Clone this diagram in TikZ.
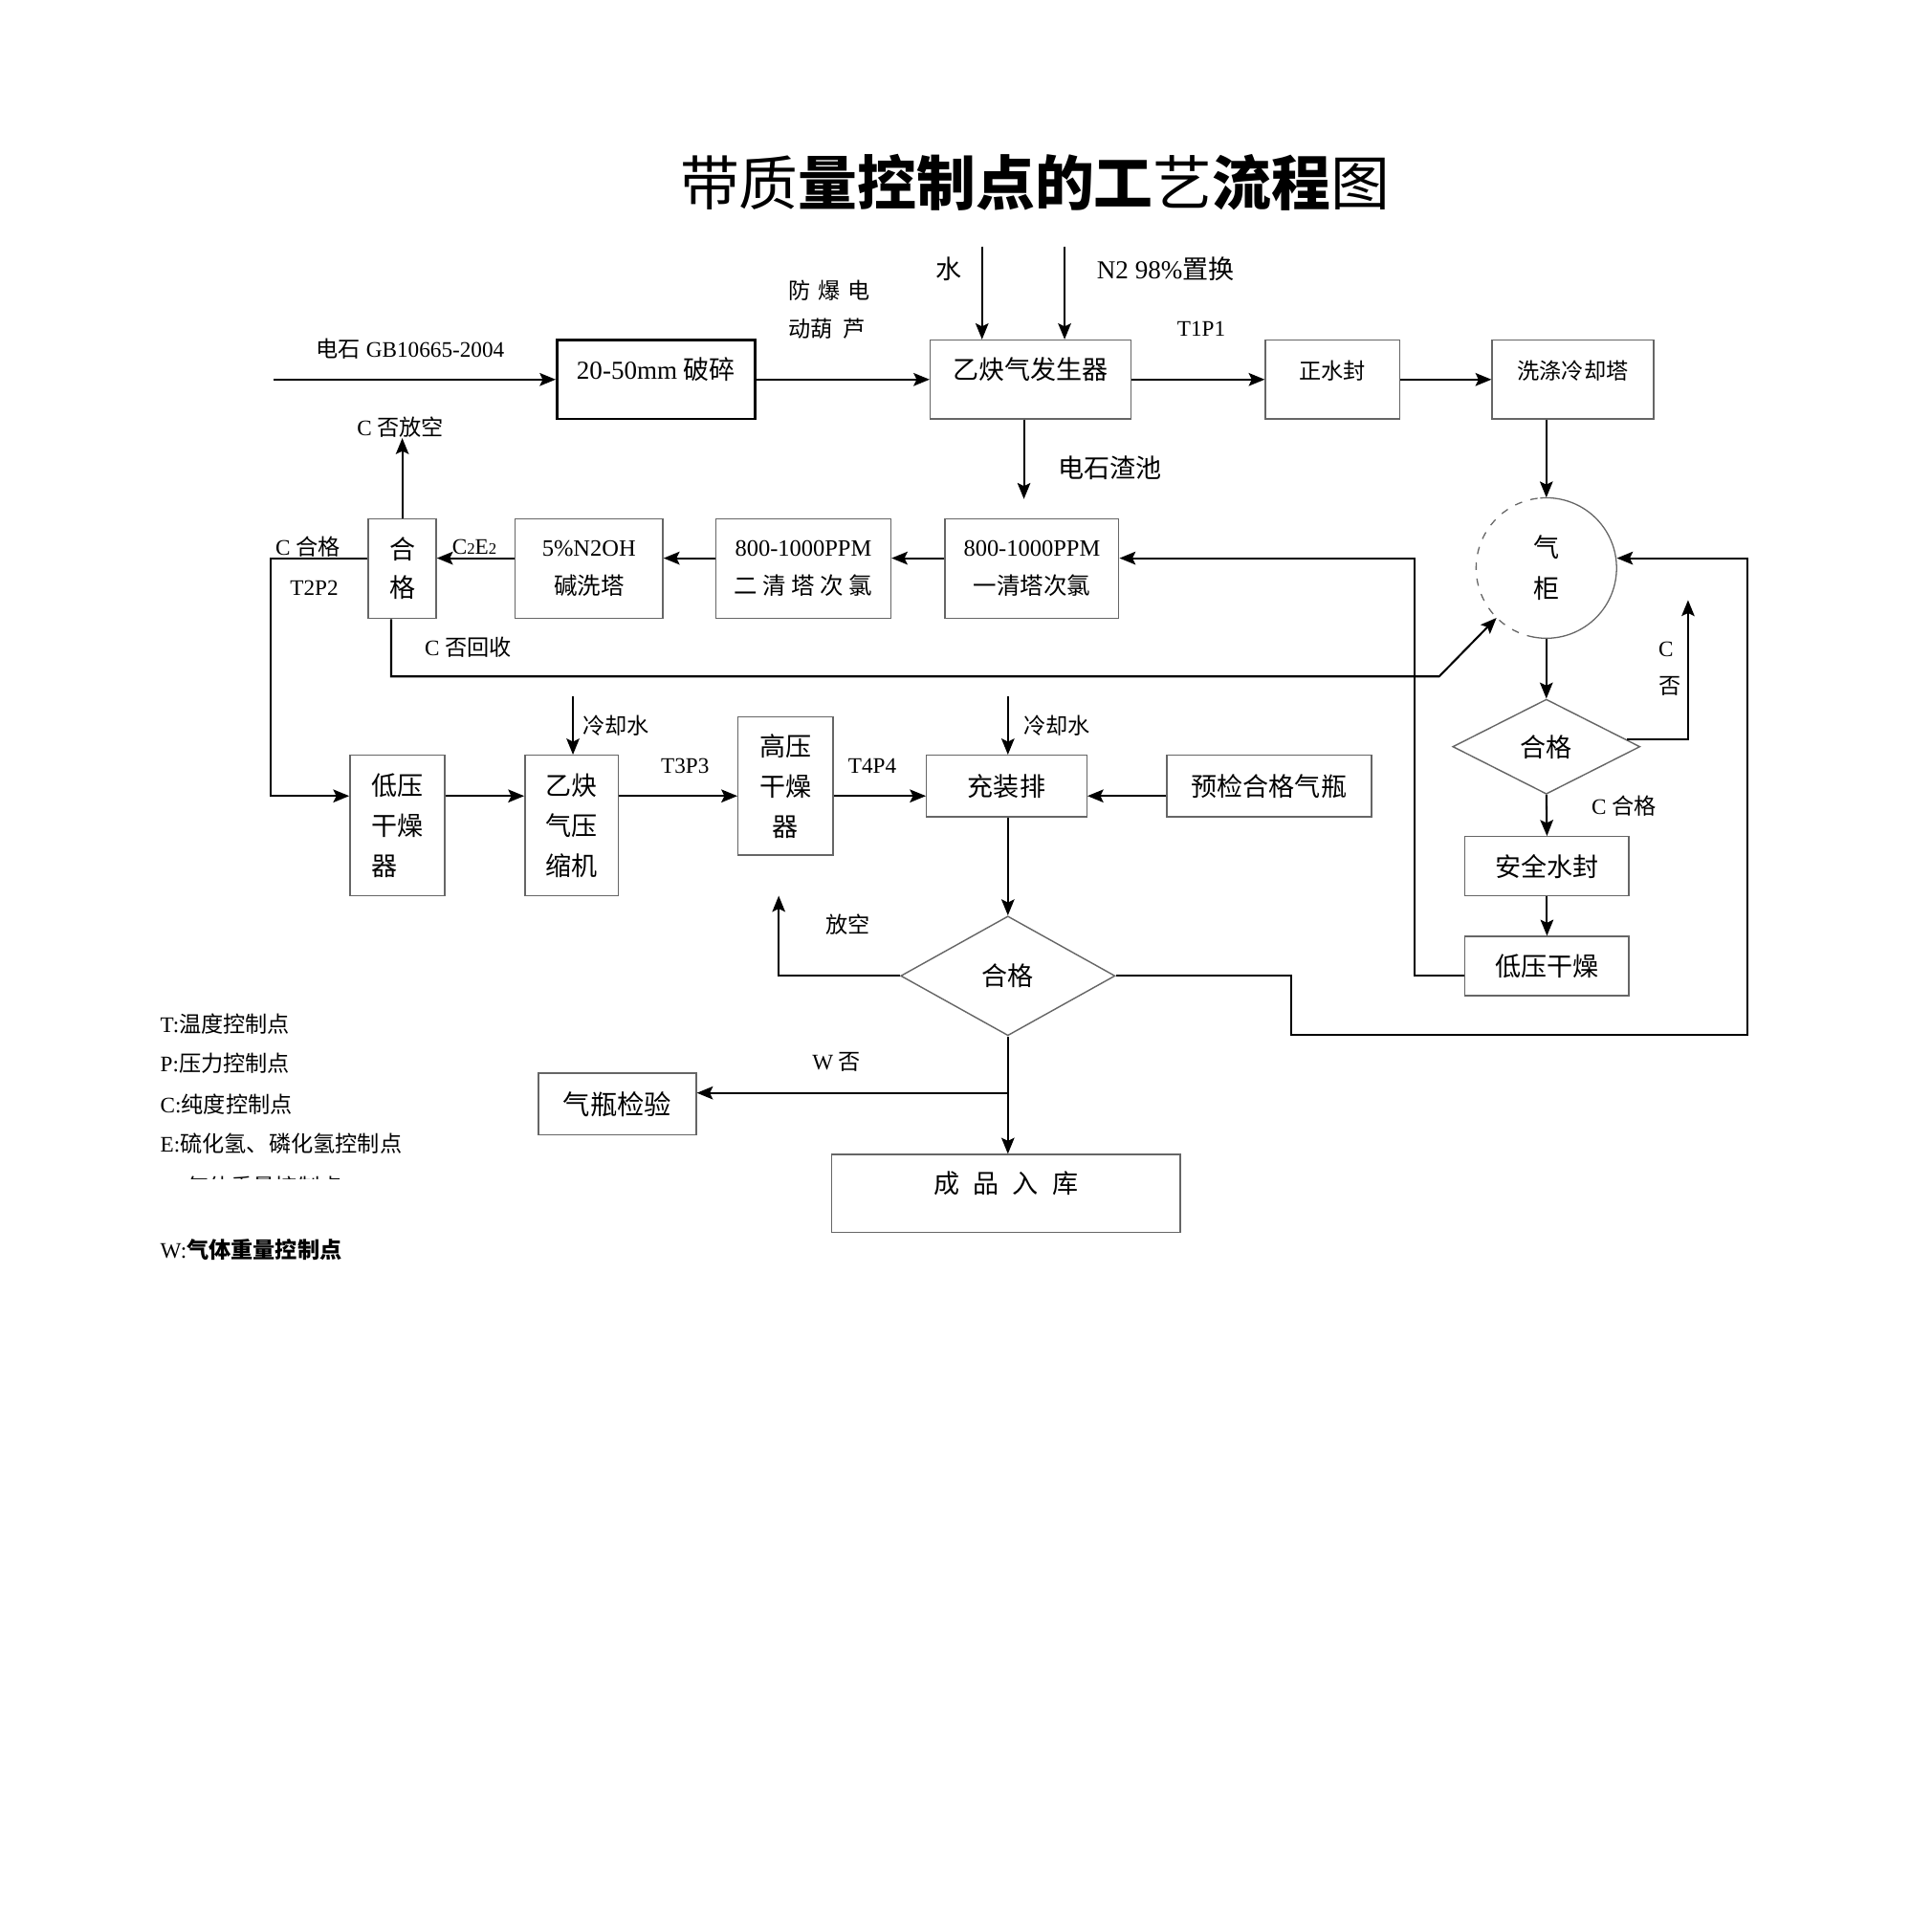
\documentclass[tikz,border=0pt]{standalone}
\usepackage{fontspec}
\setmainfont{Liberation Serif}
\newfontfamily\zh{Noto Sans CJK SC}
\usetikzlibrary{arrows.meta,shapes.geometric,calc}

\tikzstyle{block}=[draw=black!60, line width=1.1pt, rectangle, inner sep=0pt, align=center, font=\fontsize{19}{31}\selectfont]
\tikzstyle{decision}=[draw=black!60, line width=1.1pt, diamond, inner sep=0pt, font=\fontsize{21}{25}\selectfont\zh]
\tikzstyle{raised}=[text height=16pt, text depth=16pt]
\tikzstyle{flow}=[draw, line width=1.6pt, -{Stealth[length=13pt,width=10.5pt,inset=2.5pt]}]
\tikzstyle{tag}=[inner sep=0pt, font=\fontsize{18}{22}\selectfont]
\tikzstyle{bigtag}=[inner sep=0pt, font=\fontsize{21}{25}\selectfont]

\begin{document}
\begin{tikzpicture}[x=1pt, y=-1pt]
    \fill[white] (0,0) rectangle (1568,1568);
    \useasboundingbox (0,0) rectangle (1568,1568);

    % title
    \node[font=\fontsize{48}{48}\selectfont\zh] (title) at (840,148) {带质{\bfseries 量控制点的工}艺{\bfseries 流程}图};

    % blocks
    \node[block, raised, draw=black, line width=2pt, minimum width=161, minimum height=64, font=\fontsize{21}{25}\selectfont] (crush) at (532.5,308) {20-50mm {\zh 破碎}};
    \node[block, raised, minimum width=163, minimum height=64, font=\fontsize{21}{25}\selectfont\zh] (gen) at (836.5,308) {乙炔气发生器};
    \node[block, raised, minimum width=109, minimum height=64, font=\fontsize{18}{22}\selectfont\zh] (seal) at (1081.5,308) {正水封};
    \node[block, raised, minimum width=131, minimum height=64, font=\fontsize{18}{22}\selectfont\zh] (wash) at (1276.5,308) {洗涤冷却塔};

    \node[circle, minimum size=114, inner sep=0pt, align=center, font=\fontsize{21}{33}\selectfont\zh] (holder) at (1255,461) {气\\柜};
    \draw[line width=1pt, black!60] ([shift={(100:57)}]holder.center) arc[start angle=100, end angle=-95, radius=57];
    \draw[line width=1pt, black!60, dash pattern=on 6pt off 7pt] ([shift={(100:57)}]holder.center) arc[start angle=100, end angle=265, radius=57];

    \node[block, minimum width=141, minimum height=81] (clean1) at (837.5,461.5) {800-1000PPM\\{\zh 一清塔次氯}};
    \node[block, minimum width=142, minimum height=81] (clean2) at (652,461.5) {800-1000PPM\\{\zh 二 清 塔 次 氯}};
    \node[block, minimum width=120, minimum height=81] (alkali) at (478,461.5) {5\%N2OH\\{\zh 碱洗塔}};
    \node[block, minimum width=55, minimum height=81, font=\fontsize{21}{31}\selectfont\zh] (check) at (326.5,461.5) {合\\格};

    \node[block, minimum width=77, minimum height=114, align=left, font=\fontsize{21}{32.5}\selectfont\zh] (lowdry) at (322.5,670) {低压\\干燥\\器};
    \node[block, minimum width=76, minimum height=114, font=\fontsize{21}{32.5}\selectfont\zh] (comp) at (464,670) {乙炔\\气压\\缩机};
    \node[block, minimum width=77, minimum height=112, font=\fontsize{21}{32.5}\selectfont\zh] (hpdry) at (637.5,638) {高压\\干燥\\器};
    \node[block, minimum width=130, minimum height=50, font=\fontsize{21}{25}\selectfont\zh] (fill) at (817,638) {充装排};
    \node[block, minimum width=166, minimum height=50, font=\fontsize{21}{25}\selectfont\zh] (precheck) at (1030,638) {预检合格气瓶};

    \node[decision, minimum width=174, minimum height=97] (pass) at (818,792) {合格};
    \node[block, minimum width=128, minimum height=50, font=\fontsize{22}{25}\selectfont\zh] (bottle) at (501,896) {气瓶检验};
    \node[block, raised, minimum width=283, minimum height=63, font=\fontsize{21}{25}\selectfont\zh] (store) at (816.5,968.5) {成\hspace{11pt}品\hspace{11pt}入\hspace{11pt}库};

    \node[decision, minimum width=152, minimum height=77] (purity) at (1255,606) {合格};
    \node[block, minimum width=133, minimum height=48, font=\fontsize{21}{25}\selectfont\zh] (safe) at (1255.5,703) {安全水封};
    \node[block, minimum width=133, minimum height=48, font=\fontsize{21}{25}\selectfont\zh] (lowdry2) at (1255.5,784) {低压干燥};

    % free ends and bends
    \coordinate (feed) at (222,308);
    \coordinate (water) at (797,200);
    \coordinate (nitro) at (864,200);
    \coordinate (slag) at (831,405);
    \coordinate (mid) at (0,453);
    \coordinate (row) at (0,646);
    \coordinate (leftbend) at (220,453);
    \coordinate (recyc) at (1168,549);
    \coordinate (ret) at (1148,453);
    \coordinate (cnot) at (1370,487);
    \coordinate (cool1) at (465,565);
    \coordinate (cool2) at (818,565);
    \coordinate (vent2) at (632,727);
    \coordinate (drop) at (1048,840);
    \coordinate (loop) at (1418,453);
    \coordinate (wsplit) at (818,887);

    % top row
    \path[flow] (feed) -- (crush.west);
    \foreach \source/\dest in {crush/gen, gen/seal, seal/wash}
        \path[flow] (\source.east) -- (\dest.west);
    \path[flow] (water) -- (water |- gen.north);
    \path[flow] (nitro) -- (nitro |- gen.north);
    \path[flow] (gen.south -| slag) -- (slag);
    \path[flow] (wash.south -| holder.north) -- (holder.north);

    % cleaning row
    \foreach \source/\dest in {clean1/clean2, clean2/alkali, alkali/check}
        \path[flow] (\source.west |- mid) -- (\dest.east |- mid);
    \node[tag] (vent) at (325,347) {C {\zh 否放空}};
    \path[flow] (check.north) -- (check.north |- vent.south);
    \path[flow] (check.west |- mid) -- (leftbend) |- (lowdry.west |- row);
    \path[flow] ($(check.south)+(-9,0)$) |- (recyc) -- (holder.south west);
    \path[flow] ($(lowdry2.west)+(0,8)$) -| (ret) -- (clean1.east |- mid);

    % holder and purity check
    \path[flow] (holder.south) -- (purity.north);
    \path[flow] ($(purity.east)!0.15!(purity.north)$) -| (cnot);
    \foreach \source/\dest in {purity/safe, safe/lowdry2}
        \path[flow] (\source.south) -- (\dest.north);

    % compression row
    \foreach \source/\dest in {lowdry/comp, comp/hpdry, hpdry/fill}
        \path[flow] (\source.east |- row) -- (\dest.west |- row);
    \path[flow] (precheck.west |- row) -- (fill.east |- row);
    \path[flow] (cool1) -- (cool1 |- comp.north);
    \path[flow] (cool2) -- (cool2 |- fill.north);

    % filling check
    \path[flow] (fill.south -| pass.north) -- (pass.north);
    \path[flow] (pass.west) -| (vent2);
    \path[flow] (pass.east) -| (drop) -| (loop) -- (holder.east |- mid);
    \path[flow] (pass.south) -- (store.north -| pass.south);
    \path[flow] (wsplit) -- (bottle.east |- wsplit);

    % labels
    \node[tag] (carbide) at (333,283) {{\zh 电石} GB10665-2004};
    \node[tag, align=left, font=\fontsize{18}{31}\selectfont\zh] (hoist) at (673,251) {防\hspace{6pt}爆\hspace{6pt}电\\动葫\hspace{8pt}芦};
    \node[bigtag, font=\fontsize{21}{25}\selectfont\zh] (watertxt) at (770,218) {水};
    \node[bigtag] (nitrotxt) at (946,218) {N2 98\%{\zh 置换}};
    \node[tag] (t1p1) at (975,267) {T1P1};
    \node[bigtag, font=\fontsize{21}{25}\selectfont\zh] (slagtxt) at (901,380) {电石渣池};
    \node[tag] (c2e2) at (385,444) {C{\fontsize{13}{13}\selectfont 2}E{\fontsize{13}{13}\selectfont 2}};
    \node[tag] (cok) at (250,444) {C {\zh 合格}};
    \node[tag] (t2p2) at (255,477) {T2P2};
    \node[tag] (cback) at (380,525) {C {\zh 否回收}};
    \node[tag] (cn1) at (1352,527) {C};
    \node[tag, font=\fontsize{18}{22}\selectfont\zh] (cn2) at (1355,557) {否};
    \node[tag] (cpass) at (1318,654) {C {\zh 合格}};
    \node[tag, font=\fontsize{18}{22}\selectfont\zh] (cw1) at (500,589) {冷却水};
    \node[tag, font=\fontsize{18}{22}\selectfont\zh] (cw2) at (858,589) {冷却水};
    \node[tag] (t3p3) at (556,622) {T3P3};
    \node[tag] (t4p4) at (708,622) {T4P4};
    \node[tag, font=\fontsize{18}{22}\selectfont\zh] (venttxt) at (688,750) {放空};
    \node[tag] (wno) at (679,862) {W {\zh 否}};

    % legend
    \foreach \y/\key/\txt in {831/T/温度控制点, 863/P/压力控制点, 896/C/纯度控制点, 928/E/硫化氢、磷化氢控制点}
        \node[tag, anchor=west] (key\key) at (130,\y) {\key:{\zh \txt}};
    \begin{scope}
        \clip (125,952) rectangle (300,957);
        \node[tag, anchor=west] (keycut) at (130,963) {W:{\zh 气体重量控制点}};
    \end{scope}
    \node[tag, anchor=west] (keyW) at (130,1014) {W:{\zh\bfseries 气体重量控制点}};

\end{tikzpicture}
\end{document}
